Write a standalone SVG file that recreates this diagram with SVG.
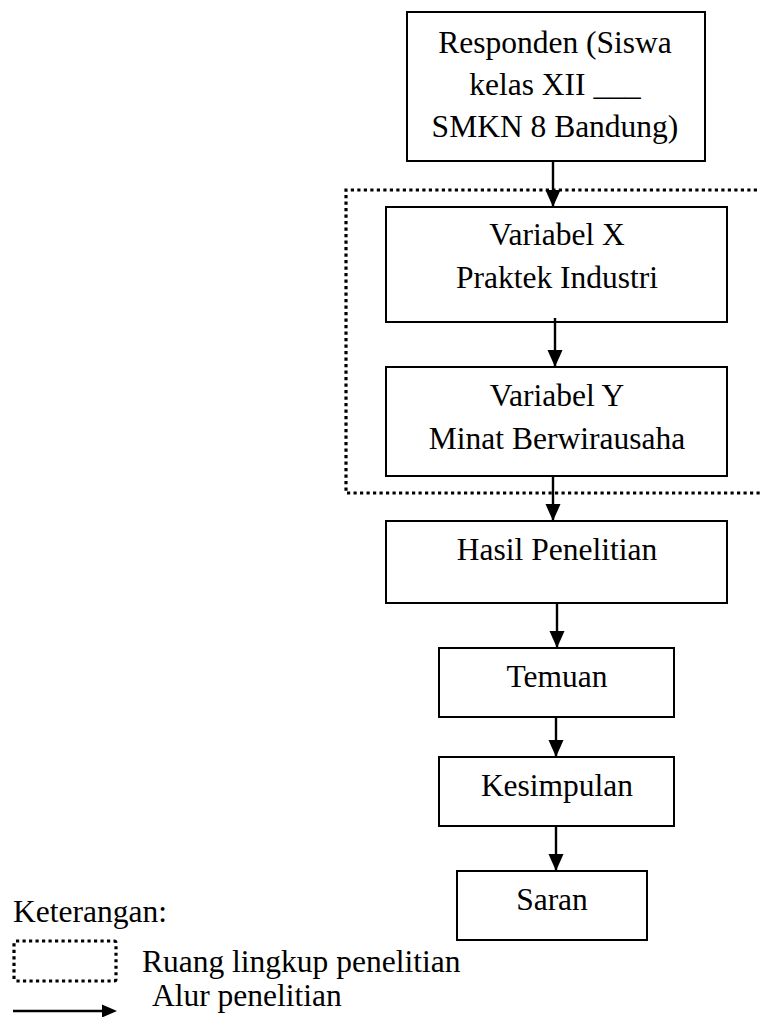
<svg xmlns="http://www.w3.org/2000/svg" width="760" height="1017" viewBox="0 0 760 1017">
<style>
  .box { fill: #fff; stroke: #000; stroke-width: 2; }
  .t { font-family: "Liberation Serif", "Times New Roman", serif; font-size: 31.5px; fill: #000; }
  .c { text-anchor: middle; }
  .dot { fill: none; stroke: #000; stroke-width: 3.2; stroke-dasharray: 3.2 3.3; }
  .arr { stroke: #000; stroke-width: 2.4; fill: none; marker-end: url(#ah); }
</style>
<defs>
  <marker id="ah" markerWidth="18" markerHeight="16" refX="17" refY="8" orient="auto" markerUnits="userSpaceOnUse">
    <path d="M0,0.5 L17,8 L0,15.5 Z" fill="#000"/>
  </marker>
</defs>
<rect width="760" height="1017" fill="#fff"/>

<g id="scope">
  <path class="dot" d="M770,190 L346,190 L346,493 L770,493"/>
</g>

<g id="n1">
  <rect class="box" x="407" y="12" width="298" height="149"/>
  <text class="t c" x="555" y="53">Responden (Siswa</text>
  <text class="t c" x="555" y="95">kelas XII ___</text>
  <text class="t c" x="555" y="137">SMKN 8 Bandung)</text>
</g>
<g id="n2">
  <rect class="box" x="386" y="207" width="341" height="115"/>
  <text class="t c" x="557" y="245">Variabel X</text>
  <text class="t c" x="557" y="288">Praktek Industri</text>
</g>
<g id="n3">
  <rect class="box" x="386" y="367" width="341" height="109"/>
  <text class="t c" x="557" y="406">Variabel Y</text>
  <text class="t c" x="557" y="449">Minat Berwirausaha</text>
</g>
<g id="n4">
  <rect class="box" x="386" y="521" width="341" height="82"/>
  <text class="t c" x="557" y="560">Hasil Penelitian</text>
</g>
<g id="n5">
  <rect class="box" x="439" y="648" width="235" height="69"/>
  <text class="t c" x="557" y="687">Temuan</text>
</g>
<g id="n6">
  <rect class="box" x="439" y="757" width="235" height="69"/>
  <text class="t c" x="557" y="796">Kesimpulan</text>
</g>
<g id="n7">
  <rect class="box" x="457" y="871" width="190" height="69"/>
  <text class="t c" x="552" y="910">Saran</text>
</g>

<g id="connectors">
  <line class="arr" x1="553" y1="161" x2="553" y2="207"/>
  <line class="arr" x1="555" y1="318" x2="555" y2="367"/>
  <line class="arr" x1="553" y1="476" x2="553" y2="521"/>
  <line class="arr" x1="557" y1="603" x2="557" y2="648"/>
  <line class="arr" x1="556" y1="717" x2="556" y2="757"/>
  <line class="arr" x1="556" y1="826" x2="556" y2="871"/>
</g>

<g id="legend">
  <text class="t" x="13" y="922">Keterangan:</text>
  <rect class="dot" x="14" y="941" width="102" height="40" rx="2"/>
  <text class="t" x="142" y="972">Ruang lingkup penelitian</text>
  <line x1="13" y1="1011" x2="104" y2="1011" stroke="#000" stroke-width="2.4"/>
  <path d="M102,1004.5 L117,1011 L102,1017.5 Z" fill="#000"/>
  <text class="t" x="152" y="1006">Alur penelitian</text>
</g>
</svg>
